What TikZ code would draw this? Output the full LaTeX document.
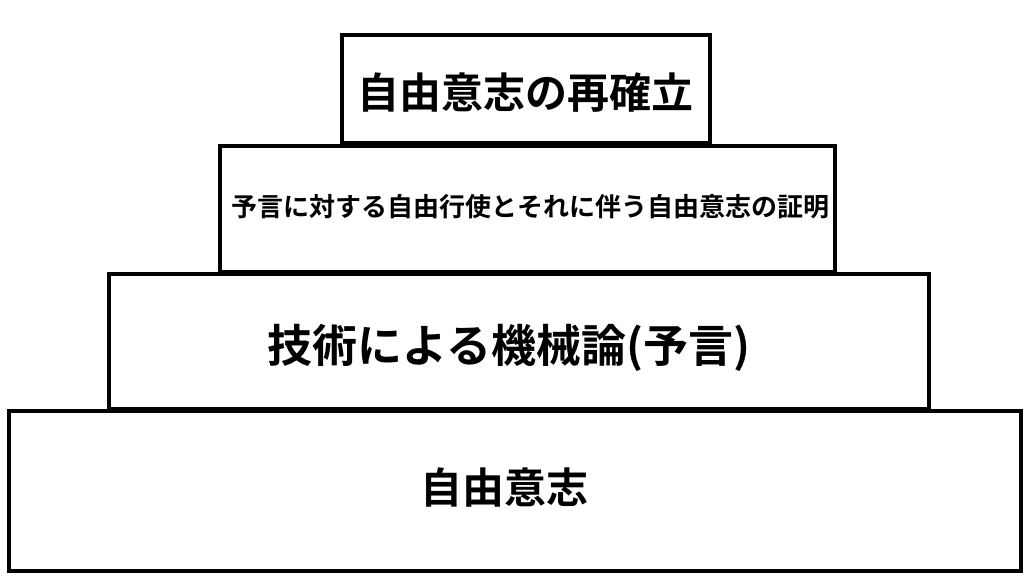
\documentclass[tikz,border=0pt]{standalone}
\usepackage{fontspec}
\newfontfamily\jp{Noto Sans CJK JP}[BoldFont={Noto Sans CJK JP Bold}]

\begin{document}
\begin{tikzpicture}[x=1pt, y=-1pt,
		tier/.style={draw=black, line width=4pt, fill=white, inner sep=0pt},
		tiertext/.style={inner sep=0pt, font=\jp\bfseries\fontsize{42}{42}\selectfont},
		bigtext/.style={inner sep=0pt, font=\jp\bfseries\fontsize{45}{45}\selectfont},
		smalltext/.style={inner sep=0pt, font=\jp\bfseries\fontsize{26}{26}\selectfont}]

				\useasboundingbox (0,0) rectangle (1024,576);	% For alignment only

				% Pyramid tiers, bottom up
				\node[tier, minimum width=1012.5pt, minimum height=160pt] (base) at (514.75,491) {};
				\node[tier, minimum width=820pt, minimum height=135.5pt] (mech) at (519,341.25) {};
				\node[tier, minimum width=615pt, minimum height=126pt] (proof) at (527,208.5) {};
				\node[tier, minimum width=368pt, minimum height=108pt] (top) at (525.5,89) {};

				\node[tiertext] (baselabel) at ([xshift=-10pt, yshift=3pt]base.center) {自由意志};
				\node[bigtext] (mechlabel) at ([xshift=-10pt, yshift=-7pt]mech.center) {技術による機械論(予言)};
				\node[smalltext] (prooflabel) at ([xshift=3.5pt, yshift=2pt]proof.center) {予言に対する自由行使とそれに伴う自由意志の証明};
				\node[tiertext] (toplabel) at ([yshift=-4pt]top.center) {自由意志の再確立};

			\end{tikzpicture}
\end{document}
